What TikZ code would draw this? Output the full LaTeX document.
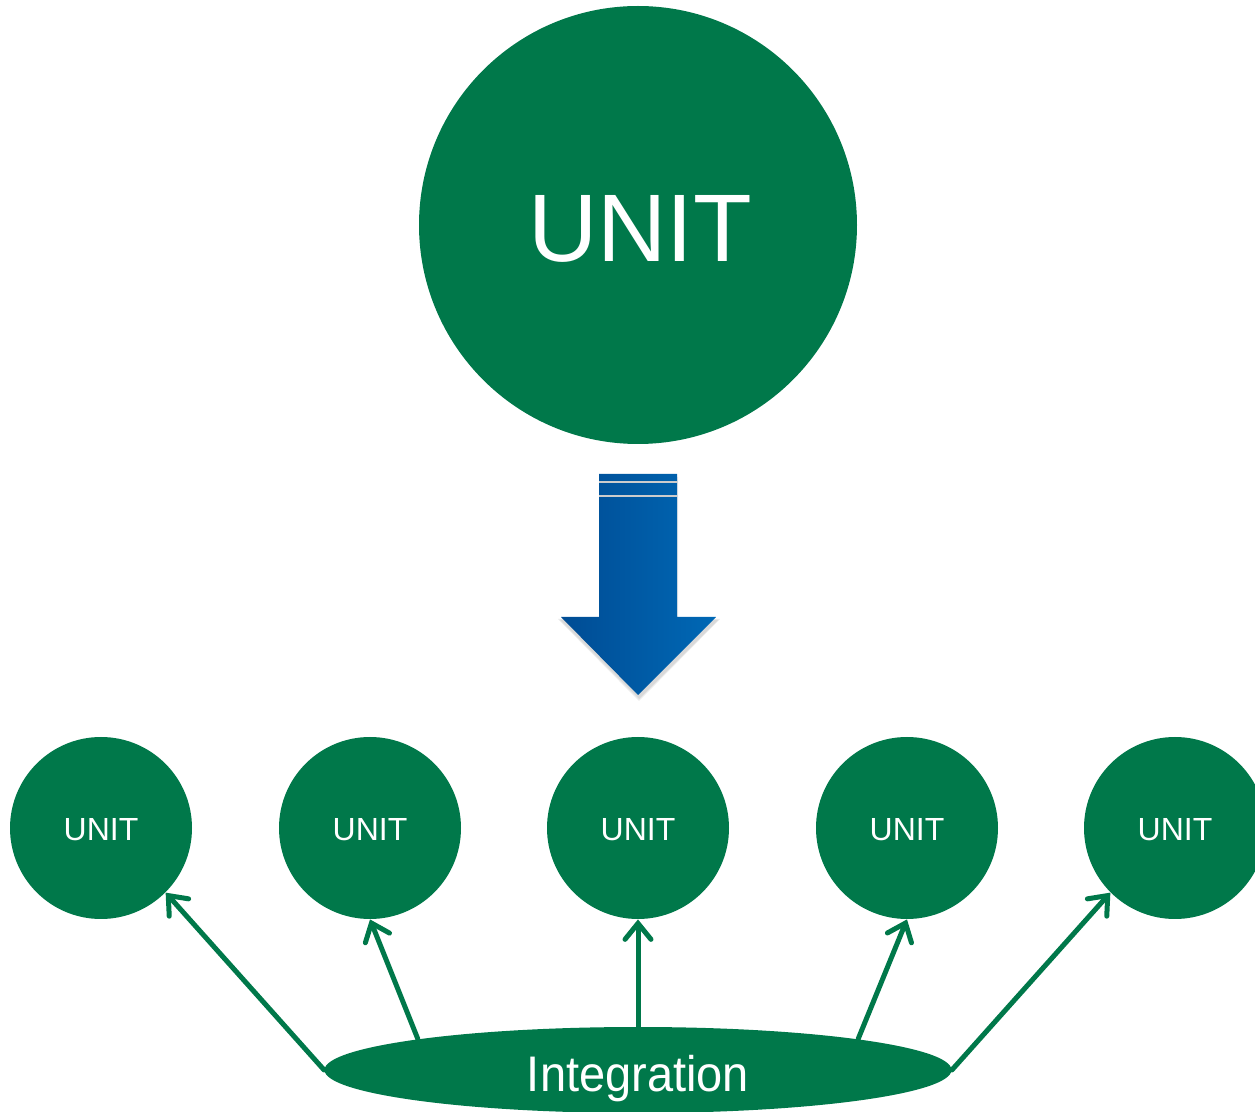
\documentclass[tikz,border=0pt]{standalone}
\usepackage{fontspec}
\setmainfont{Liberation Sans}
\usetikzlibrary{shapes.geometric,arrows.meta}
\definecolor{unitgreen}{HTML}{00784A}
\definecolor{blueL}{HTML}{004C94}
\definecolor{blueR}{HTML}{0068B5}
\begin{document}
\begin{tikzpicture}[x=0.5pt,y=-0.5pt,
  bigunit/.style={circle,fill=unitgreen,inner sep=0pt,minimum size=219pt},
  bigtext/.style={anchor=base,text=white,inner sep=0pt,font=\fontsize{48}{50}\selectfont},
  smallunit/.style={circle,fill=unitgreen,inner sep=0pt,minimum size=91pt},
  smalltext/.style={anchor=base,text=white,inner sep=0pt,font=\fontsize{16}{18}\selectfont},
  integ/.style={ellipse,fill=unitgreen,inner sep=0pt,minimum width=313.5pt,minimum height=43pt},
  conn/.style={draw=unitgreen,line width=2.5pt,line cap=round,line join=round,
    -{Straight Barb[length=8pt,width=13pt,line cap=round]}}
]
\useasboundingbox (0,0) rectangle (1255,1112);
\clip (0,0) rectangle (1255,1112);
% big unit
\node[bigunit] (big) at (638,225) {};
\node[bigtext] (bigt) at (640,262) {UNIT};
% blue arrow
\fill[black,opacity=0.08] (600,477) -- (678,477) -- (678,619) -- (720,619) -- (639,701) -- (558,619) -- (600,619) -- cycle;
\fill[black,opacity=0.08] (601,479) -- (677,479) -- (677,620) -- (718,620) -- (639,699) -- (560,620) -- (601,620) -- cycle;
\shade[left color=blueL,right color=blueR] (599,474) -- (677,474) -- (677,617) -- (716,617) -- (638,695) -- (561,617) -- (599,617) -- cycle;
\draw[color=black!20,line width=1pt] (599,482) -- (677,482);
\draw[color=black!20,line width=1pt] (599,496) -- (677,496);
% small units
\node[smallunit] (c1) at (101,828) {};
\node[smallunit] (c2) at (370,828) {};
\node[smallunit] (c3) at (638,828) {};
\node[smallunit] (c4) at (907,828) {};
\node[smallunit] (c5) at (1175,828) {};
\node[smalltext] (t1) at (101,841) {UNIT};
\node[smalltext] (t2) at (370,841) {UNIT};
\node[smalltext] (t3) at (638,841) {UNIT};
\node[smalltext] (t4) at (907,841) {UNIT};
\node[smalltext] (t5) at (1175,841) {UNIT};
% integration
\node[integ] (ell) at (638,1070) {};
\node[anchor=base,text=white,inner sep=0pt,font=\fontsize{25}{27}\selectfont,xscale=0.94] (lab) at (638,1091) {Integration};
% connectors
\draw[conn] (ell.west) -- (c1.-45);
\draw[conn] (ell.172) -- (c2.south);
\draw[conn] (ell.north) -- (c3.south);
\draw[conn] (ell.8) -- (c4.south);
\draw[conn] (ell.east) -- (c5.-135);
\end{tikzpicture}
\end{document}
